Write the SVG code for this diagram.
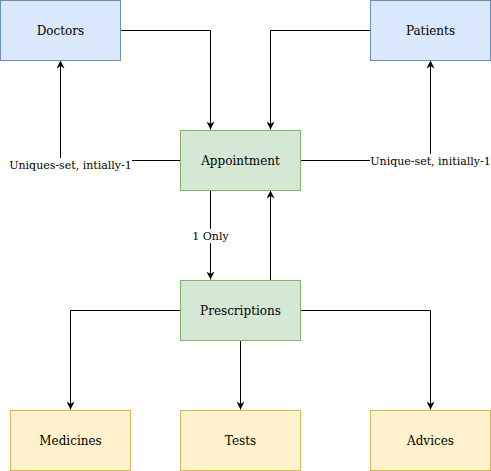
<svg xmlns="http://www.w3.org/2000/svg" width="491" height="471" viewBox="0 0 491 471">
<style>
.blue{fill:#dae8fc;stroke:#6c8ebf;stroke-width:1}
.green{fill:#d5e8d4;stroke:#82b366;stroke-width:1}
.yellow{fill:#fff2cc;stroke:#d6b656;stroke-width:1}
.lbl{font-family:"DejaVu Serif",serif;font-size:12px;fill:#000;text-anchor:middle;dominant-baseline:central}
.elbl{font-family:"DejaVu Serif",serif;font-size:11px;fill:#000;text-anchor:middle;dominant-baseline:central}
.edge{fill:none;stroke:#000;stroke-width:1}
</style>
<defs>
<marker id="arr" viewBox="0 0 10 10" refX="10" refY="5" markerWidth="8" markerHeight="8" markerUnits="userSpaceOnUse" orient="auto">
<path d="M0,0 L10,5 L0,10 L3,5 Z" fill="#000"/>
</marker>
</defs>
<rect width="491" height="471" fill="#fff"/>
<g id="connectors">
<path class="edge" d="M120.5,30.5 H210.5 V129.5" marker-end="url(#arr)"/>
<path class="edge" d="M370.5,30.5 H270.5 V129.5" marker-end="url(#arr)"/>
<path class="edge" d="M180.5,160.5 H60.5 V60.5" marker-end="url(#arr)"/>
<path class="edge" d="M300.5,160.5 H430.5 V60.5" marker-end="url(#arr)"/>
<path class="edge" d="M210.5,190.5 V279.5" marker-end="url(#arr)"/>
<path class="edge" d="M270.5,280.5 V190.5" marker-end="url(#arr)"/>
<path class="edge" d="M180.5,310.5 H70.5 V409.5" marker-end="url(#arr)"/>
<path class="edge" d="M240.5,340.5 V409.5" marker-end="url(#arr)"/>
<path class="edge" d="M300.5,310.5 H430.5 V409.5" marker-end="url(#arr)"/>
<rect x="9" y="158" width="123" height="14" fill="#fff"/>
<text class="elbl" x="70.5" y="165.5">Uniques-set, intially-1</text>
<rect x="370" y="154" width="120" height="14" fill="#fff"/>
<text class="elbl" x="430.5" y="161">Unique-set, initially-1</text>
<rect x="190" y="229" width="41" height="14" fill="#fff"/>
<text class="elbl" x="210.5" y="236">1 Only</text>
</g>
<g id="doctors"><rect class="blue" x="0.5" y="0.5" width="120" height="60"/><text class="lbl" x="60.5" y="30.5">Doctors</text></g>
<g id="patients"><rect class="blue" x="370.5" y="0.5" width="120" height="60"/><text class="lbl" x="430.5" y="30.5">Patients</text></g>
<g id="appointment"><rect class="green" x="180.5" y="130.5" width="120" height="60"/><text class="lbl" x="240.5" y="160.5">Appointment</text></g>
<g id="prescriptions"><rect class="green" x="180.5" y="280.5" width="120" height="60"/><text class="lbl" x="240.5" y="310.5">Prescriptions</text></g>
<g id="medicines"><rect class="yellow" x="10.5" y="410.5" width="120" height="60"/><text class="lbl" x="70.5" y="440.5">Medicines</text></g>
<g id="tests"><rect class="yellow" x="180.5" y="410.5" width="120" height="60"/><text class="lbl" x="240.5" y="440.5">Tests</text></g>
<g id="advices"><rect class="yellow" x="370.5" y="410.5" width="120" height="60"/><text class="lbl" x="430.5" y="440.5">Advices</text></g>
</svg>
